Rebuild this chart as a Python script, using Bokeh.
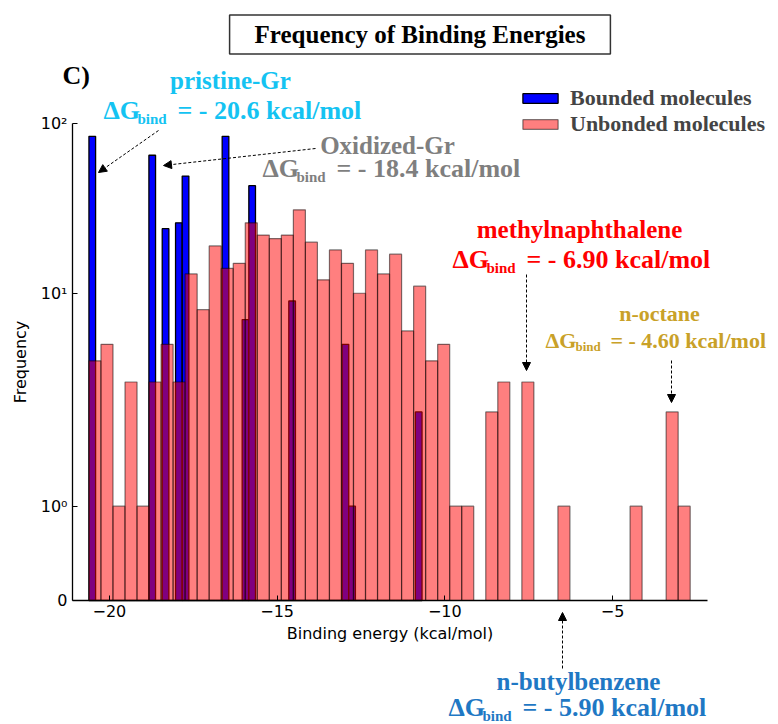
import numpy as np
from bokeh.plotting import figure
from bokeh.models import FixedTicker, Label, Arrow, NormalHead, Legend, LegendItem
from bokeh.embed import file_html
from bokeh.resources import INLINE

# ---------------- data (50 bins each) ----------------
unbonded_range = (-20.61, -2.686)
unbonded_counts = [4, 5, 1, 3, 1, 3, 5, 3, 13, 8,
                   19, 14, 15, 26, 22, 21, 22, 31, 20, 12,
                   18, 15, 10, 18, 13, 17, 6, 11, 4, 5,
                   1, 1, 0, 2, 3, 0, 3, 0, 0, 1,
                   0, 0, 0, 0, 0, 1, 0, 0, 2, 1]
bounded_range = (-20.61, -10.68)
bounded_counts = [84, 0, 0, 0, 0, 0, 0, 0, 0, 65,
                  0, 24, 0, 26, 49, 0, 0, 0, 0, 0,
                  84, 0, 0, 7, 43, 0, 0, 0, 0, 0,
                  9, 0, 0, 0, 0, 0, 0, 0, 5, 1,
                  0, 0, 0, 0, 0, 0, 0, 0, 0, 2]
x_ticks = [-20, -15, -10, -5]
y_tick_counts = [0, 1, 10, 100]
y_tick_labels = ["0", "10\u2070", "10\u00b9", "10\u00b2"]
series_names = ["Bounded molecules", "Unbonded molecules"]

# symmetric-log scale (linthresh=2, linscale=1, base 10), as in the original
LINTHRESH = 2.0
LINSCALE_ADJ = 1.0 / (1.0 - 1.0 / 10.0)


def symlog(c):
    c = np.asarray(c, dtype=float)
    safe = np.maximum(c, 1e-12)
    out = LINTHRESH * (LINSCALE_ADJ + np.log10(safe / LINTHRESH))
    return np.where(c <= LINTHRESH, c * LINSCALE_ADJ, out)


W, H = 778, 724
# axes box on the page: x 72..707, y 123..600
AX_L, AX_R, AX_T, AX_B = 72.0, 707.0, 123.0, 600.0
X0, X1 = -21.1, -2.17
Y1 = float(symlog(100))
KX = (X1 - X0) / (AX_R - AX_L)
KY = Y1 / (AX_B - AX_T)


def dx(px):
    return X0 + (px - AX_L) * KX


def dy(py):
    return (AX_B - py) * KY


p = figure(width=W, height=H,
           x_range=(dx(0), dx(W)), y_range=(dy(H), dy(0)),
           output_backend="svg", toolbar_location=None,
           min_border=0)
p.outline_line_color = None
p.xgrid.visible = False
p.ygrid.visible = False
p.background_fill_color = "white"
p.border_fill_color = "white"

eb = np.linspace(bounded_range[0], bounded_range[1], len(bounded_counts) + 1)
eu = np.linspace(unbonded_range[0], unbonded_range[1], len(unbonded_counts) + 1)

rb = p.quad(left=eb[:-1], right=eb[1:], bottom=0, top=symlog(bounded_counts),
            fill_color="#0000ff", line_color="black", line_width=1.3)
ru = p.quad(left=eu[:-1], right=eu[1:], bottom=0, top=symlog(unbonded_counts),
            fill_color="#ff0000", fill_alpha=0.5, line_color="black",
            line_alpha=0.5, line_width=1.2)

# axes, pinned to the data box
p.xaxis.fixed_location = 0.0
p.xaxis.bounds = (X0, X1)
p.yaxis.fixed_location = X0
p.yaxis.bounds = (0.0, Y1)
p.xaxis.ticker = FixedTicker(ticks=x_ticks)
p.xaxis.major_label_overrides = {t: "\u2212" + str(abs(t)) for t in x_ticks}
yt = [float(v) for v in symlog(y_tick_counts)]
p.yaxis.ticker = FixedTicker(ticks=yt)
p.yaxis.major_label_overrides = {t: l for t, l in zip(yt, y_tick_labels)}
for ax in (p.xaxis, p.yaxis):
    ax.major_tick_in = 5
    ax.major_tick_out = 0
    ax.minor_tick_line_color = None
    ax.axis_line_width = 1.3
    ax.axis_line_color = "black"
    ax.major_tick_line_color = "black"
    ax.major_label_text_font = "DejaVu Sans"
    ax.major_label_text_font_size = "16px"
    ax.major_label_text_color = "black"
    ax.axis_label_text_font = "DejaVu Sans"
    ax.axis_label_text_font_size = "16px"
    ax.axis_label_text_font_style = "normal"
    ax.axis_label_text_color = "black"
p.xaxis.axis_label = "Binding energy (kcal/mol)"
p.yaxis.axis_label = "Frequency"
p.xaxis.major_label_standoff = 4
p.xaxis.axis_label_standoff = 4
p.yaxis.major_label_standoff = 5
p.yaxis.axis_label_standoff = 8

# legend (location measured from the bottom-left of the canvas-wide frame)
legend = Legend(items=[LegendItem(label=series_names[0], renderers=[rb]),
                       LegendItem(label=series_names[1], renderers=[ru])],
                location=(518, 587), border_line_color=None,
                background_fill_alpha=0, padding=0, margin=0, spacing=0,
                glyph_width=44, glyph_height=12, label_height=25,
                label_standoff=8, label_text_font="Liberation Serif",
                label_text_font_style="bold", label_text_font_size="22px")
p.add_layout(legend)

SERIF = "Liberation Serif"


def mid(baseline, fs):
    # vertical middle of a text line whose alphabetic baseline is at `baseline`
    return dy(baseline - 0.34 * fs)


# title box
p.add_layout(Label(x=dx(419.5), y=dy(34), text="Frequency of Binding Energies",
                   text_align="center", text_baseline="middle",
                   text_font=SERIF, text_font_style="bold", text_font_size="25px",
                   text_color="black", background_fill_color="white",
                   border_line_color="#333333", border_line_width=1.5,
                   padding=(25, 6)))

p.add_layout(Label(x=dx(62), y=mid(84, 26), text="C)", text_font=SERIF,
                   text_font_style="bold", text_font_size="26px",
                   text_color="black", text_baseline="middle"))

annotations = [
    # name, name_cx, name_base, name_fs, x0, base, fs, bind_dx, rest_dx, color, rest
    ("pristine-Gr", 230, 88, 25, 103, 119, 26, 34, 74, "#14C3F2", "= - 20.6 kcal/mol"),
    ("Oxidized-Gr", 387, 153, 25, 262, 177, 26, 34, 74, "#7f7f7f", "= - 18.4 kcal/mol"),
    ("methylnaphthalene", 579, 237, 25, 452, 268, 26, 34, 74, "#ff0000", "= - 6.90 kcal/mol"),
    ("n-octane", 659, 320, 22, 545, 347, 22, 30, 65, "#C9A128", "= - 4.60  kcal/mol"),
    ("n-butylbenzene", 578, 689, 25, 448, 716, 26, 34, 74, "#1F78C4", "= - 5.90 kcal/mol"),
]
for name, ncx, nb, nfs, x0, b, fs, bdx, rdx, col, rest in annotations:
    common = dict(text_font=SERIF, text_font_style="bold", text_color=col,
                  text_baseline="middle")
    sub = round(0.58 * fs)
    p.add_layout(Label(x=dx(ncx), y=mid(nb, nfs), text=name, text_align="center",
                       text_font_size=f"{nfs}px", **common))
    p.add_layout(Label(x=dx(x0), y=mid(b, fs), text="\u0394G", text_align="left",
                       text_font_size=f"{fs}px", **common))
    p.add_layout(Label(x=dx(x0 + bdx), y=mid(b + 0.16 * fs, sub), text="bind",
                       text_align="left", text_font_size=f"{sub}px", **common))
    p.add_layout(Label(x=dx(x0 + rdx), y=mid(b, fs), text=rest,
                       text_align="left", text_font_size=f"{fs}px", **common))

arrows = [((158, 130), (98, 172)),
          ((315, 148), (163, 165)),
          ((526, 274), (526, 370)),
          ((671, 360), (671, 402)),
          ((562, 668), (562, 612))]
for (xs, ys), (xe, ye) in arrows:
    p.add_layout(Arrow(x_start=dx(xs), y_start=dy(ys), x_end=dx(xe), y_end=dy(ye),
                       line_color="black", line_width=1, line_dash="3 2",
                       end=NormalHead(size=8, fill_color="black",
                                      line_color="black", line_width=1)))

open("out.html", "w").write(file_html(p, INLINE))
